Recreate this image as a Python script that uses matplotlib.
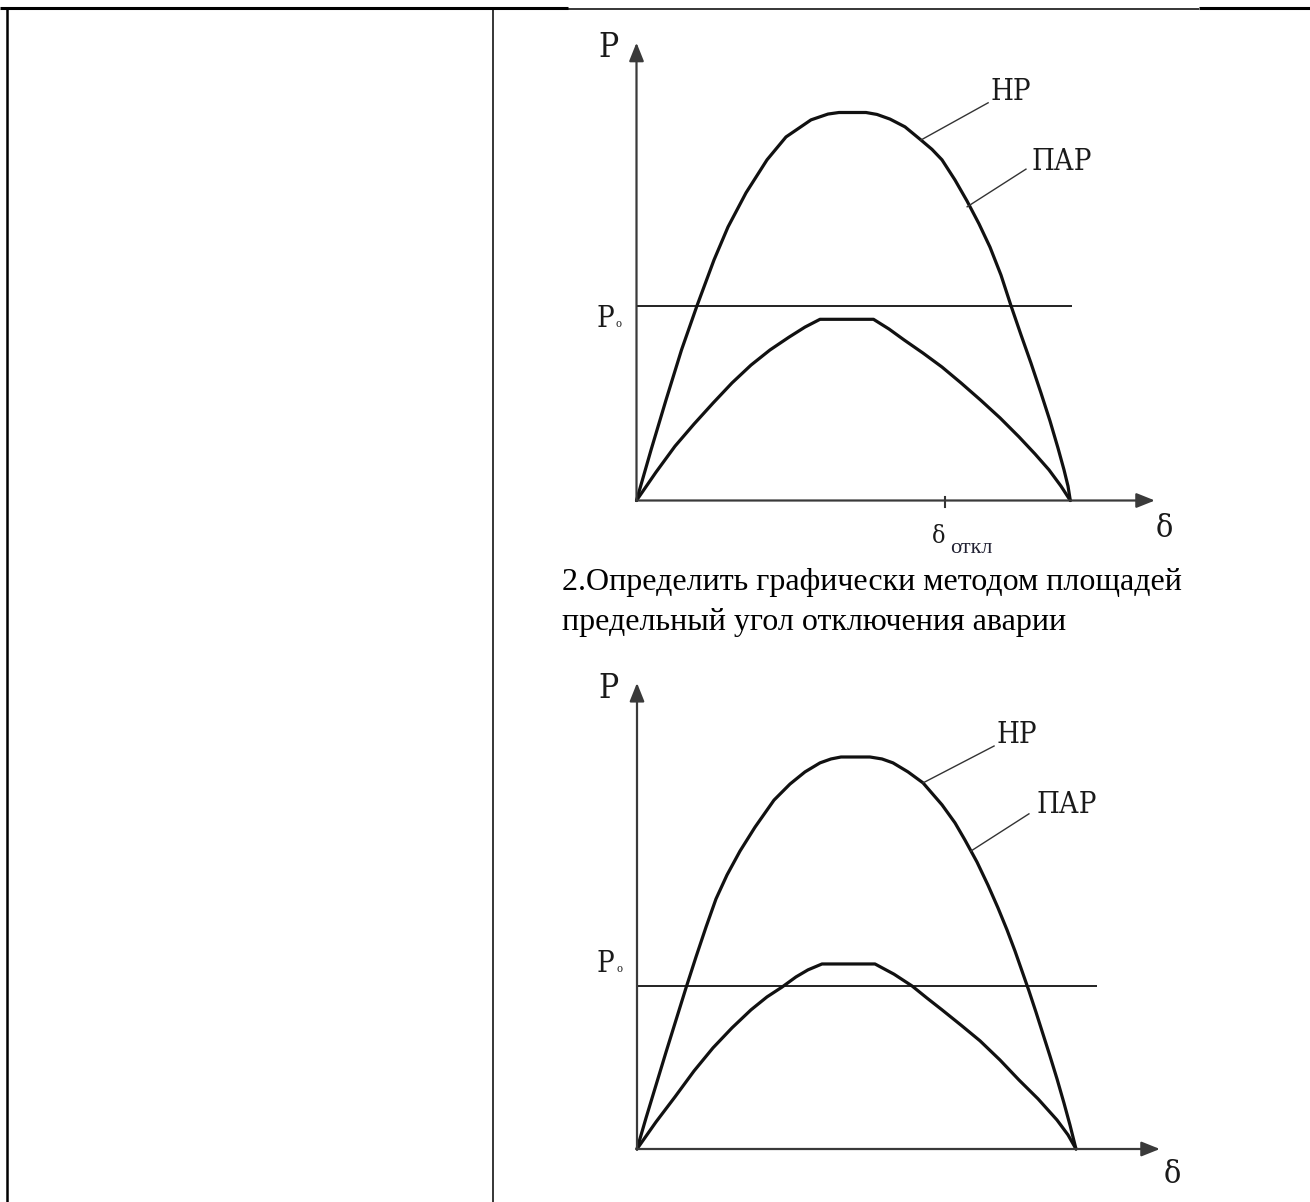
import matplotlib
matplotlib.use("Agg")
import matplotlib.pyplot as plt

plt.rcParams['font.family'] = ['Liberation Serif', 'DejaVu Sans']

W, H, DPI = 1310, 1202, 100

# ---------------- data ----------------
# chart 1 : P(δ) characteristics, δ in degrees, P relative to the normal-mode maximum
c1_up_delta = [0, 6.02, 12.24, 18.67, 25.10, 32.16, 37.97, 45.44, 54.15, 62.03, 72.41, 79.46, 84.02,
               95.23, 99.79, 105.19, 111.41, 118.05, 122.61, 126.76, 132.16, 137.14, 142.12,
               146.68, 151.24, 155.39, 159.54, 163.69, 167.84, 171.58, 174.90, 177.39, 179.05, 180]
c1_up_P = [0, 0.130, 0.259, 0.388, 0.502, 0.620, 0.705, 0.793, 0.878, 0.937, 0.981, 0.996, 1.0,
           1.0, 0.995, 0.983, 0.963, 0.929, 0.905, 0.878, 0.826, 0.772, 0.713,
           0.653, 0.581, 0.502, 0.427, 0.354, 0.277, 0.205, 0.135, 0.079, 0.037, 0]
c1_lo_delta = [0, 8.09, 15.98, 23.86, 31.74, 39.63, 47.51, 55.39, 63.28, 69.92, 76.14,
               98.34, 104.77, 110.99, 118.88, 126.76, 134.65, 142.74, 150.83, 158.71,
               165.35, 171.16, 176.14, 180]
c1_lo_P = [0, 0.073, 0.140, 0.197, 0.251, 0.303, 0.349, 0.388, 0.421, 0.447, 0.467,
           0.467, 0.442, 0.414, 0.380, 0.344, 0.303, 0.259, 0.213, 0.164,
           0.120, 0.079, 0.037, 0]
c1_P0 = 0.502
c1_P0_end = 180.6
c1_delta_off = 128.0
c1_axis_top = 1.18
c1_axis_right = 215.1

# chart 2
c2_up_delta = [0, 3.69, 7.79, 11.89, 15.99, 20.09, 24.19, 28.29, 32.39, 36.90, 42.23, 48.38,
               56.17, 62.73, 68.88, 75.03, 79.54, 83.64,
               95.53, 100.46, 104.97, 111.12, 117.27, 125.06, 130.39, 134.49, 139.41, 143.92,
               148.02, 151.71, 154.99, 157.86, 160.73, 163.60, 166.47, 169.34, 172.21, 175.08,
               177.54, 180]
c2_up_P = [0, 0.079, 0.163, 0.247, 0.329, 0.411, 0.490, 0.566, 0.638, 0.699, 0.760, 0.821,
           0.890, 0.931, 0.962, 0.985, 0.995, 1.0,
           1.0, 0.995, 0.985, 0.962, 0.934, 0.878, 0.832, 0.788, 0.732, 0.673,
           0.615, 0.559, 0.505, 0.454, 0.403, 0.349, 0.293, 0.237, 0.179, 0.117,
           0.061, 0]
c2_lo_delta = [0, 7.79, 15.58, 23.37, 31.16, 38.95, 46.74, 53.30, 59.45, 65.19, 70.11, 75.85,
               97.58, 105.37, 112.76, 118.91, 125.06, 132.85, 140.64, 148.84, 156.63, 164.42,
               172.21, 176.72, 180]
c2_lo_P = [0, 0.069, 0.133, 0.199, 0.258, 0.309, 0.355, 0.388, 0.413, 0.439, 0.457, 0.472,
           0.472, 0.446, 0.416, 0.385, 0.355, 0.316, 0.276, 0.227, 0.176, 0.128,
           0.074, 0.036, 0]
c2_P0 = 0.416
c2_P0_end = 188.6
c2_axis_top = 1.189
c2_axis_right = 214.4

curve_labels = ["НР", "ПАР"]
axis_y_label = "P"
axis_x_label = "δ"
p0_label = "P"
p0_sub = "о"
off_label = "δ"
off_sub = "откл"
text_lines = ["2.Определить графически методом площадей",
              "предельный угол отключения аварии"]

# ---------------- figure ----------------
fig = plt.figure(figsize=(W / DPI, H / DPI), dpi=DPI)
fig.patch.set_facecolor("white")

# page / table layer in pixel coordinates
page = fig.add_axes([0, 0, 1, 1])
page.set_xlim(0, W)
page.set_ylim(H, 0)
page.axis("off")
page.plot([0, 568], [8.3, 8.3], color="black", lw=2.2, solid_capstyle="butt")
page.plot([568, 1199], [9.4, 9.4], color="black", lw=1.1, solid_capstyle="butt")
page.plot([1199, W], [8.3, 8.3], color="black", lw=2.2, solid_capstyle="butt")
page.plot([6.5, 6.5], [7, H], color="black", lw=1.8, solid_capstyle="butt")
page.plot([493, 493], [9, H], color="black", lw=1.1, solid_capstyle="butt")
page.text(562, 590, text_lines[0], fontsize=23, va="baseline", ha="left", color="black")
page.text(562, 630, text_lines[1], fontsize=23, va="baseline", ha="left", color="black")


def make_axes(box, origin, px_deg, px_P):
    l, t, r, b = box
    ax = fig.add_axes([l / W, 1 - b / H, (r - l) / W, (b - t) / H])
    ox, oy = origin
    ax.set_xlim((l - ox) / px_deg, (r - ox) / px_deg)
    ax.set_ylim((oy - b) / px_P, (oy - t) / px_P)
    ax.axis("off")
    return ax


LAB = dict(family=["DejaVu Serif", "Liberation Serif"], fontstretch="condensed",
           color="#1a1a1a")


def draw_chart(ax, up_d, up_P, lo_d, lo_P, P0, P0_end, ytop, xtip, lay):
    arrow = dict(arrowstyle="-|>,head_length=0.7,head_width=0.28", lw=1.6,
                 color="#3a3a3a", shrinkA=0, shrinkB=0, mutation_scale=16)
    ax.annotate("", xy=(0, ytop), xytext=(0, 0), arrowprops=arrow, annotation_clip=False)
    ax.annotate("", xy=(xtip, 0), xytext=(0, 0), arrowprops=arrow, annotation_clip=False)
    ax.plot([0, P0_end], [P0, P0], color="#222222", lw=1.4, solid_capstyle="butt")
    ax.plot(up_d, up_P, color="#111111", lw=2.3, solid_joinstyle="round", solid_capstyle="round")
    ax.plot(lo_d, lo_P, color="#111111", lw=2.3, solid_joinstyle="round", solid_capstyle="round")
    for (x1, y1, x2, y2) in lay["leaders"]:
        ax.plot([x1, x2], [y1, y2], color="#333333", lw=1.0)
    ax.text(*lay["lab_np"], curve_labels[0], fontsize=21, ha="left", va="baseline", **LAB)
    ax.text(*lay["lab_par"], curve_labels[1], fontsize=21, ha="left", va="baseline", **LAB)
    ax.text(*lay["lab_P"], axis_y_label, fontsize=24, ha="left", va="baseline", **LAB)
    ax.text(*lay["lab_P0"], p0_label, fontsize=21, ha="left", va="baseline", **LAB)
    ax.text(*lay["lab_P0s"], p0_sub, fontsize=8, ha="left", va="baseline", **LAB)
    ax.text(*lay["lab_d"], axis_x_label, fontsize=23, ha="left", va="baseline", **LAB)


ax1 = make_axes((560, 20, 1210, 570), (636.5, 500.5), 433.8 / 180, 388)
draw_chart(ax1, c1_up_delta, c1_up_P, c1_lo_delta, c1_lo_P, c1_P0, c1_P0_end,
           c1_axis_top, c1_axis_right,
           dict(leaders=[(145.9, 1.025, 118.0, 0.929), (161.6, 0.854, 137.2, 0.757)],
                lab_np=(147.0, 1.032), lab_par=(163.8, 0.852), lab_P=(-15.9, 1.143),
                lab_P0=(-16.8, 0.447), lab_P0s=(-8.6, 0.447), lab_d=(215.6, -0.094)))
# δ_откл tick and label
ax1.plot([c1_delta_off, c1_delta_off], [-0.017, 0.009], color="#333333", lw=1.5)
ax1.text(122.6, -0.110, off_label, fontsize=18, ha="left", va="baseline", **LAB)
ax1.text(130.0, -0.135, off_sub, fontsize=16, ha="left", va="baseline", color="#222233",
         family=["Liberation Serif"])

ax2 = make_axes((560, 660, 1210, 1202), (637, 1149), 439 / 180, 392)
draw_chart(ax2, c2_up_delta, c2_up_P, c2_lo_delta, c2_lo_P, c2_P0, c2_P0_end,
           c2_axis_top, c2_axis_right,
           dict(leaders=[(146.4, 1.028, 117.3, 0.934), (160.7, 0.855, 136.9, 0.760)],
                lab_np=(147.2, 1.036), lab_par=(164.0, 0.857), lab_P=(-15.9, 1.151),
                lab_P0=(-16.8, 0.452), lab_P0s=(-8.6, 0.452), lab_d=(216.1, -0.087)))

fig.savefig("out.png", dpi=DPI, facecolor="white")
